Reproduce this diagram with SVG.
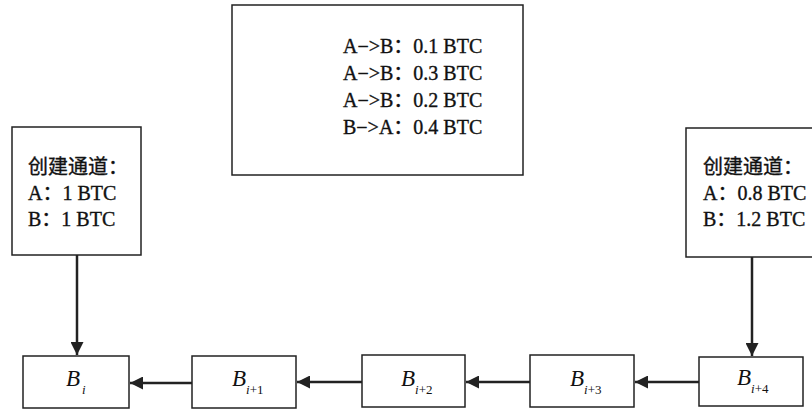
<svg xmlns="http://www.w3.org/2000/svg" width="812" height="410" viewBox="0 0 812 410">
<defs>
<style>
.box{fill:#fff;stroke:#222;stroke-width:1.5}
.t{font-family:"Liberation Serif","Noto Sans CJK SC",serif;font-size:20px;fill:#111;stroke:#111;stroke-width:0.35}
.b{font-family:"Liberation Serif",serif;font-style:italic;font-size:23px;fill:#111}
.s{font-family:"Liberation Serif",serif;font-size:13px;fill:#111}
.i{font-style:italic}
.c{stroke:#222;stroke-width:2.5;fill:none}
</style>
<marker id="ah" viewBox="0 0 10 10" refX="10" refY="5" markerWidth="13" markerHeight="13" markerUnits="userSpaceOnUse" orient="auto">
<path d="M0,0 L10,5 L0,10 Z" fill="#222"/>
</marker>
</defs>
<rect width="812" height="410" fill="#fff"/>
<g id="tx">
<rect class="box" x="232" y="5" width="291" height="170"/>
<text class="t" x="343" y="53">A−&gt;B：0.1 BTC</text>
<text class="t" x="343" y="80">A−&gt;B：0.3 BTC</text>
<text class="t" x="343" y="107">A−&gt;B：0.2 BTC</text>
<text class="t" x="343" y="134">B−&gt;A：0.4 BTC</text>
</g>
<g id="open">
<rect class="box" x="12" y="127" width="129" height="128"/>
<text class="t" x="28" y="174">创建通道：</text>
<text class="t" x="28" y="200">A：1 BTC</text>
<text class="t" x="28" y="226">B：1 BTC</text>
</g>
<g id="close">
<rect class="box" x="686" y="128" width="140" height="129"/>
<text class="t" x="703" y="174">创建通道：</text>
<text class="t" x="703" y="200">A：0.8 BTC</text>
<text class="t" x="703" y="226">B：1.2 BTC</text>
</g>
<g id="b0">
<rect class="box" x="23" y="356" width="106" height="52"/>
<text class="b" x="66" y="386">B</text><text class="s i" x="82" y="394">i</text>
</g>
<g id="b1">
<rect class="box" x="192" y="356" width="104" height="52"/>
<text class="b" x="232" y="386">B</text><text class="s" x="246" y="394"><tspan class="i">i</tspan>+1</text>
</g>
<g id="b2">
<rect class="box" x="362" y="355" width="103" height="52"/>
<text class="b" x="401" y="386">B</text><text class="s" x="415" y="394"><tspan class="i">i</tspan>+2</text>
</g>
<g id="b3">
<rect class="box" x="530" y="355" width="104" height="52"/>
<text class="b" x="570" y="386">B</text><text class="s" x="584" y="394"><tspan class="i">i</tspan>+3</text>
</g>
<g id="b4">
<rect class="box" x="699" y="357" width="104" height="49"/>
<text class="b" x="737" y="385">B</text><text class="s" x="751" y="393"><tspan class="i">i</tspan>+4</text>
</g>
<g id="connectors">
<line class="c" x1="77" y1="255" x2="77" y2="355" marker-end="url(#ah)"/>
<line class="c" x1="752" y1="257" x2="752" y2="356" marker-end="url(#ah)"/>
<line class="c" x1="192" y1="383" x2="130" y2="383" marker-end="url(#ah)"/>
<line class="c" x1="362" y1="382" x2="297" y2="382" marker-end="url(#ah)"/>
<line class="c" x1="530" y1="382" x2="466" y2="382" marker-end="url(#ah)"/>
<line class="c" x1="699" y1="382" x2="635" y2="382" marker-end="url(#ah)"/>
</g>
</svg>
